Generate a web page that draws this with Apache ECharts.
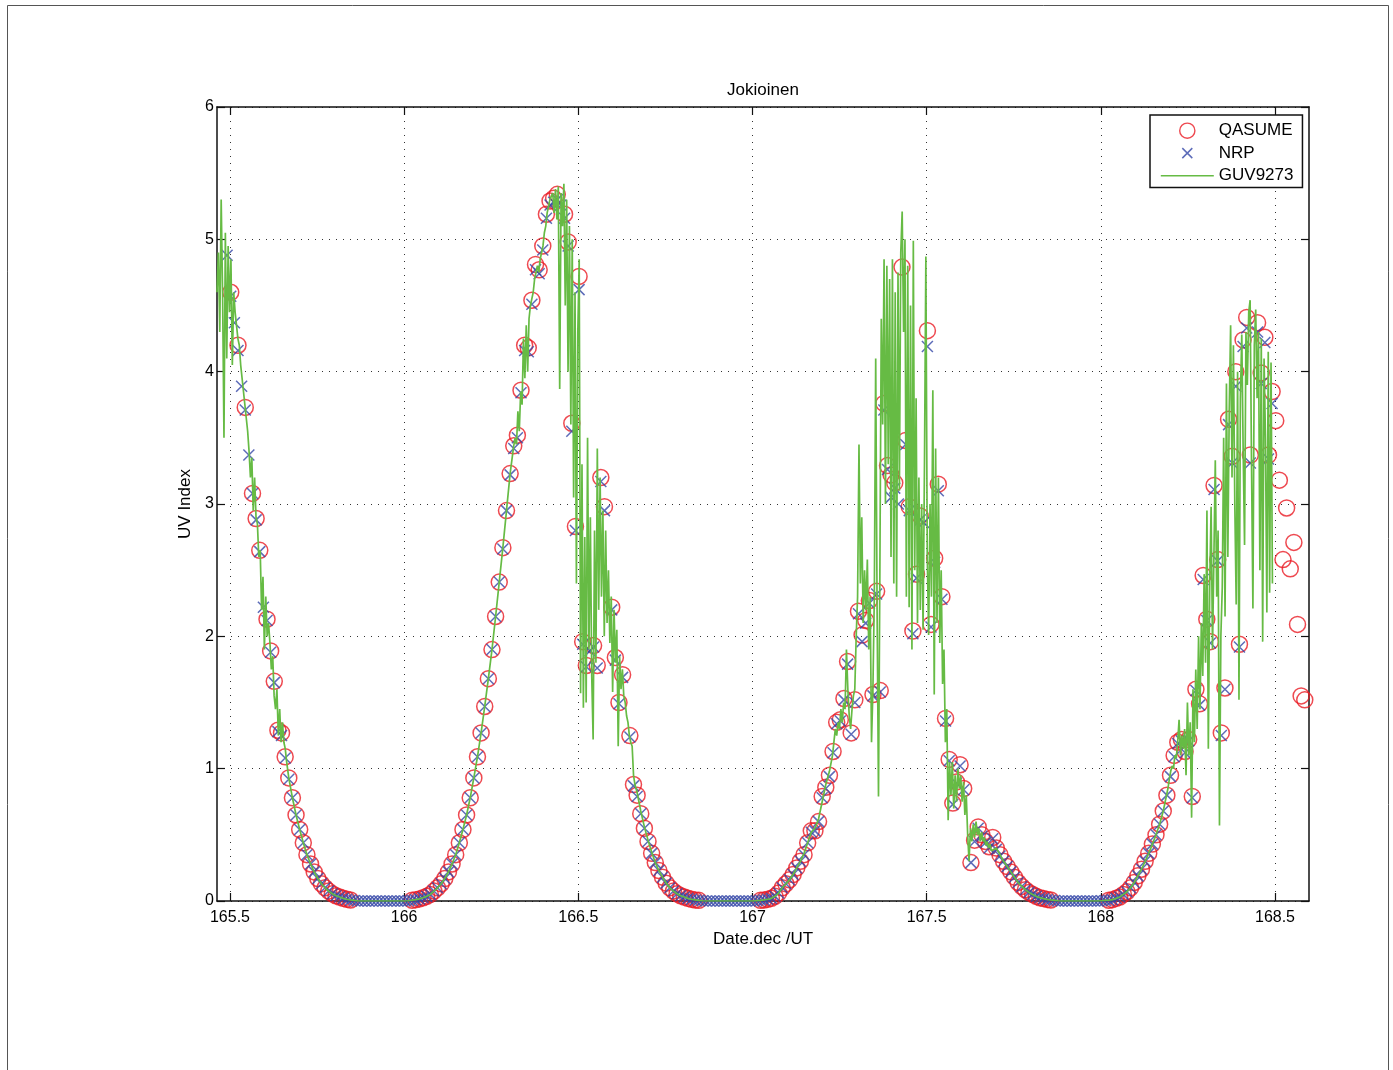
<!DOCTYPE html>
<html><head><meta charset="utf-8">
<script src="https://cdn.jsdelivr.net/npm/echarts@6/dist/echarts.min.js"></script>
<style>html,body{margin:0;padding:0;background:#fff}#c{width:1393px;height:1070px}</style>
</head><body><div id="c"></div>
<script>
// ---- axes ----
const xTicks = [165.5, 166, 166.5, 167, 167.5, 168, 168.5];
const xMin = 165.4627, xMax = 168.5976;
const yMin = 0, yMax = 6, yInterval = 1;

// ---- 15-minute measurement grid (QASUME / NRP) ----
const gridStart = 165.4917;
const gridStep = 1 / 96;
const qasume = [
 null,4.60,null,4.20,null,3.73,null,3.08,2.89,2.65,
 null,2.13,1.89,1.66,1.29,1.27,1.09,0.93,0.78,0.65,
 0.54,0.44,0.35,0.28,0.22,0.17,0.13,0.10,0.075,0.055,
 0.04,0.03,0.02,0.013,0.008,null,null,null,null,null,
 null,null,null,null,null,null,null,null,null,null,
 null,0.006,0.01,0.016,0.025,0.035,0.05,0.075,0.10,0.13,
 0.17,0.22,0.28,0.35,0.44,0.54,0.65,0.78,0.93,1.09,
 1.27,1.47,1.68,1.90,2.15,2.41,2.67,2.95,3.23,3.44,
 3.52,3.86,4.20,4.18,4.54,4.81,4.77,4.95,5.19,5.29,
 5.31,5.34,null,5.19,4.98,3.61,2.83,4.72,1.96,1.78,
 null,1.93,1.78,3.20,2.98,null,2.22,1.84,1.50,1.71,
 null,1.25,0.88,0.80,0.66,0.55,0.45,0.36,0.29,0.23,
 0.18,0.135,0.10,0.075,0.055,0.04,0.03,0.02,0.013,0.008,
 0.005,null,null,null,null,null,null,null,null,null,
 null,null,null,null,null,null,null,0.005,0.008,0.013,
 0.02,0.035,0.06,0.10,0.13,0.16,0.20,0.25,0.30,0.35,
 0.44,0.53,0.53,0.60,0.79,0.86,0.95,1.13,1.35,1.37,
 1.53,1.81,1.27,1.52,2.19,2.01,2.12,2.27,1.56,2.34,
 1.59,3.76,3.29,3.22,3.16,null,4.79,3.48,2.98,2.04,
 2.47,2.91,null,4.31,2.09,2.59,3.15,2.30,1.38,1.07,
 0.74,0.90,1.03,0.85,null,0.29,0.46,0.56,0.50,0.45,
 0.41,0.48,0.40,0.35,0.30,0.26,0.22,0.18,0.14,0.11,
 0.085,0.065,0.05,0.035,0.025,0.018,0.012,0.008,null,null,
 null,null,null,null,null,null,null,null,null,null,
 null,null,null,0.006,0.01,0.02,0.03,0.05,0.07,0.10,
 0.14,0.19,0.24,0.30,0.36,0.43,0.50,0.58,0.68,0.80,
 0.95,1.10,1.20,1.22,1.13,1.22,0.79,1.60,1.49,2.46,
 2.13,1.96,3.14,2.58,1.27,1.61,3.64,3.36,4.00,1.94,
 4.24,4.41,3.37,null,4.37,3.99,4.26,3.37,3.85,3.63,
 3.18,2.58,2.97,2.51,2.71,2.09,1.55,1.52
];
const nrp = [
 4.88,4.57,4.37,4.16,3.89,3.71,3.37,3.08,2.88,2.64,
 2.22,2.12,1.88,1.65,1.28,1.25,1.08,0.92,0.78,0.65,
 0.54,0.44,0.35,0.28,0.22,0.17,0.13,0.10,0.075,0.055,
 0.04,0.03,0.02,0.013,0.008,0.004,0,0,0,0,
 0,0,0,0,0,0,0,0,0,0,
 0.002,0.006,0.01,0.016,0.025,0.035,0.05,0.075,0.10,0.13,
 0.17,0.22,0.28,0.35,0.44,0.54,0.65,0.78,0.93,1.09,
 1.27,1.47,1.68,1.90,2.15,2.41,2.66,2.95,3.22,3.42,
 3.50,3.84,4.16,4.15,4.51,4.77,4.74,4.92,5.16,5.26,
 5.28,5.30,5.26,5.16,4.95,3.55,2.80,4.62,1.94,1.77,
 1.89,1.92,1.76,3.17,2.95,null,2.20,1.82,1.49,1.69,
 null,1.24,0.87,0.79,0.66,0.55,0.45,0.36,0.29,0.23,
 0.18,0.135,0.10,0.075,0.055,0.04,0.03,0.02,0.013,0.008,
 0.005,0.002,0,0,0,0,0,0,0,0,
 0,0,0,0,0,0,0.002,0.005,0.008,0.013,
 0.02,0.035,0.06,0.10,0.13,0.16,0.20,0.25,0.30,0.35,
 0.44,0.52,0.53,0.60,0.78,0.85,0.94,1.12,1.34,1.36,
 1.52,1.79,1.26,1.50,2.17,1.96,2.10,2.25,1.55,2.32,
 1.58,3.71,3.26,3.05,3.12,3.00,null,3.45,2.95,2.02,
 2.44,2.88,2.86,4.19,2.07,2.56,3.10,2.28,1.36,1.06,
 0.73,0.89,1.02,0.84,null,0.29,0.45,0.55,0.49,0.44,
 0.40,0.47,0.39,0.34,0.30,0.26,0.22,0.18,0.14,0.11,
 0.085,0.065,0.05,0.035,0.025,0.018,0.012,0.008,0.004,0,
 0,0,0,0,0,0,0,0,0,0,
 0,0.002,0.004,0.006,0.01,0.02,0.03,0.05,0.07,0.10,
 0.14,0.19,0.24,0.30,0.36,0.43,0.50,0.58,0.68,0.80,
 0.94,1.09,1.19,1.21,1.12,1.21,0.78,1.59,1.48,2.43,
 2.12,1.95,3.11,2.57,1.25,1.60,3.60,3.31,3.89,1.92,
 4.19,4.33,3.31,null,4.30,3.91,4.22,3.34,3.76
];

// ---- GUV9273: fast-sampled segments (step guvStep) and 15-min segments ----
const guvStep = 0.004;
const guvSeg1Start = 165.4627;
const guvSeg1 = [4.6,4.9,4.3,5.3,4.6,3.5,5.05,4.1,4.95,4.45,
 4.85,4.05,4.6,4.45,4.35,4.25,4.2,4.05,3.95,3.85,
 3.75,3.65,3.55,3.4,3.2,3.35,2.95,3.2,2.9,2.85,
 2.6,2.65,2.2,2.45,1.9,2.3,2.0,2.1,1.95,1.75,
 1.85,1.55,1.45,1.6,1.25,1.45,1.2,1.35,1.2,1.15,1.05];
const guvSeg2FirstSlot = 17;
const guvSeg2 = [0.93,0.78,0.65,0.54,0.44,0.35,0.28,0.22,0.17,0.13,
 0.10,0.075,0.055,0.04,0.03,0.02,0.013,0.008,0.005,0,
 0,0,0,0,0,0,0,0,0,0,
 0,0,0,0.002,0.006,0.01,0.016,0.025,0.035,0.05,
 0.075,0.10,0.13,0.17,0.22,0.28,0.35,0.44,0.54,0.65,
 0.78,0.93,1.09,1.27,1.47,1.68,1.90,2.15,2.41,2.67,2.95,3.23];
const guvSeg3Start = 166.3145;
const guvSeg3 = [3.44,3.5,3.45,3.7,3.55,3.85,3.75,4.25,3.95,4.35,
 4.0,4.4,4.5,4.55,4.6,4.7,4.75,4.8,4.75,4.85,
 4.9,4.95,5.05,5.1,5.2,5.25,5.3,5.3,5.35,5.2,
 5.38,5.15,5.4,3.87,5.35,5.1,5.42,4.5,5.3,4.0,
 5.1,3.6,5.0,3.05,4.6,2.4,4.3,4.85,1.57,3.3,
 1.46,2.75,1.5,3.5,1.9,2.9,1.7,1.22,2.8,1.8,
 3.42,2.2,3.2,2.3,2.95,2.0,2.8,2.1,2.5,1.95,
 2.3,1.58,2.2,1.8,2.05,1.17,1.85,1.6,1.75,1.55,
 1.5,1.4,1.35,1.25,1.2,1.17,0.95,0.88];
const guvSeg4FirstSlot = 113;
const guvSeg4 = [0.82,0.68,0.56,0.46,0.37,0.29,0.23,0.18,0.135,0.10,
 0.075,0.055,0.04,0.03,0.02,0.013,0.008,0.005,0.002,0,
 0,0,0,0,0,0,0,0,0,0,
 0,0,0,0.003,0.005,0.008,0.013,0.02,0.035,0.06,
 0.10,0.13,0.16,0.20,0.25,0.30,0.36,0.44,0.52,0.55,0.62,0.75,0.88,0.98];
const guvSeg5Start = 167.2297;
const guvSeg5 = [1.1,1.2,1.3,1.25,1.35,1.3,1.45,1.35,1.5,1.45,
 1.9,1.6,1.4,1.3,1.45,1.55,1.6,2.0,2.3,3.45,
 2.4,2.9,2.1,2.5,2.2,2.58,1.9,2.3,1.2,1.6,
 2.3,4.1,2.2,0.79,2.5,4.4,3.6,4.85,3.0,4.8,
 3.3,4.7,2.6,4.85,2.4,4.6,2.3,4.75,3.1,4.9,
 5.21,4.3,5.0,2.3,4.8,2.22,4.5,1.9,4.99,2.5,
 3.8,2.1,3.2,2.2,3.0,2.05,3.3,4.87,2.6,2.01,
 3.0,2.3,3.86,1.56,3.42,2.1,3.2,1.95,2.5,1.64,
 1.9,1.2,1.45,0.61,1.05,0.8,1.05,0.7,0.95,0.75,
 1.0,0.85,0.95,0.75,0.9,0.65,0.8,0.5,0.3,0.55,
 0.45,0.58,0.48,0.6,0.5,0.55,0.45,0.52,0.45,0.48,
 0.42,0.45,0.4,0.43,0.38];
const guvSeg6FirstSlot = 212;
const guvSeg6 = [0.40,0.35,0.30,0.26,0.22,0.18,0.14,0.11,0.085,0.065,
 0.05,0.035,0.025,0.018,0.012,0.008,0.005,0.002,0,0,
 0,0,0,0,0,0,0,0,0,0.002,
 0.004,0.006,0.01,0.02,0.03,0.05,0.07,0.10,0.14,0.19,
 0.24,0.30,0.36,0.43,0.50,0.58,0.68];
const guvSeg7Start = 168.1926;
const guvSeg7 = [0.85,0.92,0.98,1.02,1.0,1.1,1.08,1.2,1.37,1.1,
 1.25,1.15,1.3,0.95,1.5,1.1,1.35,0.63,1.6,1.2,
 1.75,1.3,2.0,1.45,2.1,1.7,2.47,1.8,2.95,1.15,
 2.4,2.98,1.9,2.6,3.33,2.3,2.8,0.57,2.0,2.37,
 3.5,2.15,3.91,2.6,3.7,4.35,3.2,4.2,3.0,2.24,
 4.0,1.52,3.8,4.28,3.4,2.69,4.3,3.9,4.45,4.54,
 3.3,2.21,4.2,4.47,3.8,4.3,2.5,4.25,1.96,4.1,
 3.5,2.18,4.15,2.33,4.07,2.4];

// ---- colours ----
const cRed = '#ea1c24', cBlue = '#3447a8', cGreen = '#66bb44';

function slotPairs(firstSlot, vals) {
  const out = [];
  vals.forEach((v, i) => { if (v !== null) out.push([gridStart + (firstSlot + i) * gridStep, v]); });
  return out;
}
function stepPairs(start, vals) {
  return vals.map((v, i) => [start + i * guvStep, v]);
}
const qasumeData = slotPairs(0, qasume);
const nrpData = slotPairs(0, nrp);
const guvData = [].concat(
  stepPairs(guvSeg1Start, guvSeg1),
  slotPairs(guvSeg2FirstSlot, guvSeg2),
  stepPairs(guvSeg3Start, guvSeg3),
  slotPairs(guvSeg4FirstSlot, guvSeg4),
  stepPairs(guvSeg5Start, guvSeg5),
  slotPairs(guvSeg6FirstSlot, guvSeg6),
  stepPairs(guvSeg7Start, guvSeg7)
);

const FONT = 'Liberation Sans, Arial, Helvetica, sans-serif';
const TICK_FS = 16, TEXT_FS = 17;
const gridLine = { show: true, lineStyle: { color: '#333', width: 1, type: [1, 6] } };
const axisLine = { show: true, onZero: false, lineStyle: { color: '#111', width: 1.5 } };

const chart = echarts.init(document.getElementById('c'), null, { renderer: 'canvas' });
chart.setOption({
  animation: false,
  backgroundColor: '#fff',
  textStyle: { fontFamily: FONT },
  grid: { left: 217, right: 84, top: 107, bottom: 169, outerBoundsMode: 'none' },
  graphic: [{
    type: 'rect', silent: true, z: -10,
    shape: { x: 7.5, y: 5.5, width: 1381, height: 1080 },
    style: { fill: 'none', stroke: '#555', lineWidth: 1 }
  }],
  legend: {
    orient: 'vertical', left: 1150, top: 115,
    padding: [7, 9, 3, 10], itemGap: 5, itemWidth: 53, itemHeight: 16,
    borderColor: '#111', borderWidth: 1.5, backgroundColor: '#fff',
    selectedMode: false, symbolKeepAspect: true,
    textStyle: { fontSize: TEXT_FS, color: '#000', fontFamily: FONT },
    data: [
      { name: 'QASUME', icon: 'path://M0,0M53,16M34.1,8A7.6,7.6,0,1,1,18.9,8A7.6,7.6,0,1,1,34.1,8Z',
        itemStyle: { color: 'rgba(0,0,0,0)', borderColor: cRed, borderWidth: 1.4 } },
      { name: 'NRP', icon: 'path://M0,0M53,16M21.5,3L31.5,13M31.5,3L21.5,13',
        itemStyle: { color: 'rgba(0,0,0,0)', borderColor: cBlue, borderWidth: 1.5 } },
      { name: 'GUV9273', icon: 'path://M0,0M53,16M0,8L53,8',
        itemStyle: { color: 'rgba(0,0,0,0)', borderColor: cGreen, borderWidth: 1.6 } }
    ]
  },
  xAxis: [{
    type: 'value', position: 'bottom', min: xMin, max: xMax,
    name: 'Date.dec /UT', nameLocation: 'middle', nameGap: 29,
    nameTextStyle: { fontSize: TEXT_FS, color: '#000', fontFamily: FONT },
    axisLine: axisLine,
    axisTick: { show: true, inside: true, length: 8, customValues: xTicks, lineStyle: { color: '#111', width: 1.2 } },
    axisLabel: { show: true, customValues: xTicks, margin: 9, fontSize: TICK_FS, color: '#000', fontFamily: FONT },
    splitLine: gridLine
  }, {
    type: 'value', position: 'top', min: xMin, max: xMax,
    name: 'Jokioinen', nameLocation: 'middle', nameGap: 8,
    nameTextStyle: { fontSize: TEXT_FS, color: '#000', fontFamily: FONT },
    axisLine: axisLine,
    axisTick: { show: true, inside: true, length: 8, customValues: xTicks, lineStyle: { color: '#111', width: 1.2 } },
    axisLabel: { show: false },
    splitLine: { show: false }
  }],
  yAxis: [{
    type: 'value', position: 'left', min: yMin, max: yMax, interval: yInterval,
    name: 'UV Index', nameLocation: 'middle', nameGap: 15,
    nameTextStyle: { fontSize: TEXT_FS, color: '#000', fontFamily: FONT },
    axisLine: axisLine,
    axisTick: { show: true, inside: true, length: 8, lineStyle: { color: '#111', width: 1.2 } },
    axisLabel: { show: true, margin: 3, fontSize: TICK_FS, color: '#000', fontFamily: FONT },
    splitLine: gridLine
  }, {
    type: 'value', position: 'right', min: yMin, max: yMax, interval: yInterval,
    axisLine: axisLine,
    axisTick: { show: true, inside: true, length: 8, lineStyle: { color: '#111', width: 1.2 } },
    axisLabel: { show: false },
    splitLine: { show: false }
  }],
  series: [{
    name: 'QASUME', type: 'scatter', xAxisIndex: 0, yAxisIndex: 0, z: 2,
    symbol: 'circle', symbolSize: 16,
    itemStyle: { color: 'rgba(0,0,0,0)', borderColor: cRed, borderWidth: 1.5 },
    data: qasumeData
  }, {
    name: 'NRP', type: 'scatter', xAxisIndex: 0, yAxisIndex: 0, z: 3,
    symbol: 'path://M0,0L10,10M10,0L0,10', symbolSize: 11,
    itemStyle: { color: 'rgba(0,0,0,0)', borderColor: cBlue, borderWidth: 1.5 },
    data: nrpData
  }, {
    name: 'GUV9273', type: 'line', xAxisIndex: 0, yAxisIndex: 0, z: 4,
    showSymbol: false, symbol: 'none',
    lineStyle: { color: cGreen, width: 1.7 },
    itemStyle: { color: cGreen },
    data: guvData
  }]
});
</script>
</body></html>
